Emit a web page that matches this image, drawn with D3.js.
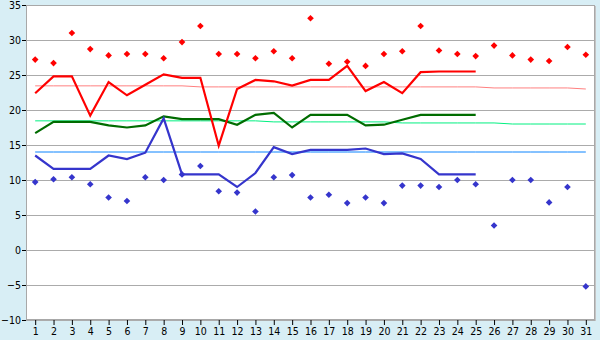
<!DOCTYPE html>
<html>
<head>
<meta charset="utf-8">
<script src="https://cdn.jsdelivr.net/npm/d3@7"></script>
<style>
  html, body { margin: 0; padding: 0; background: #d8eef5; }
  svg { display: block; }
  text { font-family: "DejaVu Sans Condensed", "DejaVu Sans", sans-serif; font-stretch: condensed; font-size: 10.5px; fill: #000; }
</style>
</head>
<body>
<div id="chart"></div>
<script>
// days of the month
var days = d3.range(1, 32);
var yTicks = [-10, -5, 0, 5, 10, 15, 20, 25, 30, 35];

// daily extremes (diamonds), days 1..31
var maxDaily = [27.2, 26.7, 31.0, 28.7, 27.8, 28.0, 28.0, 27.4, 29.7, 32.0,
  28.0, 28.0, 27.4, 28.4, 27.4, 33.1, 26.6, 26.9, 26.3, 28.0,
  28.4, 32.0, 28.5, 28.0, 27.7, 29.2, 27.8, 27.2, 27.0, 29.0, 27.9];
var minDaily = [9.7, 10.1, 10.4, 9.4, 7.5, 7.0, 10.4, 10.0, 10.8, 12.0,
  8.4, 8.2, 5.5, 10.4, 10.7, 7.5, 7.9, 6.7, 7.5, 6.7,
  9.2, 9.2, 9.0, 10.0, 9.4, 3.5, 10.0, 10.0, 6.8, 9.0, -5.2];

// running lines, days 1..25
var maxLine = [22.4, 24.8, 24.8, 19.2, 24.0, 22.1, 23.6, 25.1, 24.6, 24.6,
  14.9, 23.0, 24.3, 24.1, 23.5, 24.3, 24.3, 26.3, 22.7, 24.0,
  22.4, 25.4, 25.5, 25.5, 25.5];
var meanLine = [16.7, 18.3, 18.3, 18.3, 17.8, 17.5, 17.8, 19.1, 18.7, 18.7,
  18.7, 17.9, 19.3, 19.6, 17.5, 19.3, 19.3, 19.3, 17.8, 17.9,
  18.6, 19.3, 19.3, 19.3, 19.3];
var minLine = [13.5, 11.6, 11.6, 11.6, 13.5, 13.0, 13.9, 18.8, 10.8, 10.8,
  10.8, 9.0, 11.0, 14.7, 13.7, 14.3, 14.3, 14.3, 14.5, 13.7,
  13.8, 13.0, 10.8, 10.8, 10.8];

// normals, days 1..31
var normalMax = [23.45, 23.45, 23.45, 23.45, 23.45, 23.45, 23.45, 23.45, 23.45, 23.3,
  23.3, 23.3, 23.3, 23.3, 23.3, 23.3, 23.3, 23.3, 23.3, 23.3,
  23.3, 23.3, 23.3, 23.3, 23.3, 23.15, 23.15, 23.15, 23.15, 23.15, 23.0];
var normalMean = [18.45, 18.45, 18.45, 18.45, 18.45, 18.45, 18.45, 18.45, 18.45, 18.45,
  18.45, 18.45, 18.45, 18.3, 18.3, 18.3, 18.3, 18.3, 18.3, 18.3,
  18.15, 18.15, 18.15, 18.15, 18.15, 18.15, 18.0, 18.0, 18.0, 18.0, 18.0];
var normalMin = [14.0, 14.0, 14.0, 14.0, 14.0, 14.0, 14.0, 14.0, 14.0, 14.0,
  14.0, 14.0, 14.0, 14.0, 14.0, 14.0, 14.0, 14.0, 14.0, 14.0,
  14.0, 14.0, 14.0, 14.0, 14.0, 14.0, 14.0, 14.0, 14.0, 14.0, 14.0];

var frame = {width: 600, height: 340},
  margin = {top: 5, right: 5, bottom: 20, left: 26};

var x = d3.scalePoint()
  .domain(days)
  .range([margin.left, frame.width - margin.right])
  .padding(0.5);

var y = d3.scaleLinear()
  .domain([-10, 35])
  .range([frame.height - margin.bottom, margin.top]);

var svg = d3.select('#chart')
  .append('svg')
  .attr('width', frame.width)
  .attr('height', frame.height);

// plot background
svg.append('rect')
  .attr('x', margin.left)
  .attr('y', margin.top)
  .attr('width', frame.width - margin.left - margin.right)
  .attr('height', frame.height - margin.top - margin.bottom)
  .attr('fill', '#fff');

// grid
svg.append('g')
  .selectAll('line')
  .data(yTicks)
  .enter()
  .append('line')
  .attr('x1', margin.left)
  .attr('x2', frame.width - margin.right)
  .attr('y1', function (d) { return Math.round(y(d)) + 0.5; })
  .attr('y2', function (d) { return Math.round(y(d)) + 0.5; })
  .attr('stroke', '#ababab');

// frame
svg.append('rect')
  .attr('x', margin.left + 0.5)
  .attr('y', margin.top + 0.5)
  .attr('width', frame.width - margin.left - margin.right - 1)
  .attr('height', frame.height - margin.top - margin.bottom - 1)
  .attr('fill', 'none')
  .attr('stroke', '#a8a8a8');
svg.append('line')
  .attr('x1', frame.width - margin.right + 0.5)
  .attr('x2', frame.width - margin.right + 0.5)
  .attr('y1', margin.top + 1)
  .attr('y2', frame.height - margin.bottom + 1)
  .attr('stroke', '#c4c4c4');

// y axis: labels + short black ticks
var yAxis = d3.axisLeft(y).tickValues(yTicks).tickSize(4).tickPadding(1);
var gy = svg.append('g')
  .attr('transform', 'translate(' + margin.left + ',0)')
  .call(yAxis);
gy.select('.domain').remove();
gy.selectAll('.tick line').attr('stroke', '#000');
gy.selectAll('.tick text')
  .attr('font-family', null)
  .attr('font-size', null);
gy.attr('font-family', null).attr('font-size', null);

// x axis
var xAxis = d3.axisBottom(x).tickSize(5).tickPadding(3);
var gx = svg.append('g')
  .attr('transform', 'translate(0,' + (frame.height - margin.bottom) + ')')
  .call(xAxis);
gx.select('.domain').remove();
gx.selectAll('.tick line').attr('stroke', '#000');
gx.attr('font-family', null).attr('font-size', null);

function addLine(values, color, width) {
  var line = d3.line()
    .x(function (d, i) { return x(days[i]); })
    .y(function (d) { return y(d); });
  svg.append('path')
    .datum(values)
    .attr('d', line)
    .attr('fill', 'none')
    .attr('stroke', color)
    .attr('stroke-width', width)
    .attr('stroke-linejoin', 'miter');
}

// normals
addLine(normalMax, '#ff8080', 1);
addLine(normalMean, '#00f080', 1);
addLine(normalMin, '#0a84ff', 1);

// running lines
addLine(meanLine, '#006c00', 2.2);
addLine(maxLine, '#ff0000', 2.2);
addLine(minLine, '#3535cc', 2.2);

function addDots(values, color) {
  var sym = d3.symbol().type(d3.symbolSquare).size(22);
  svg.append('g')
    .selectAll('path')
    .data(values)
    .enter()
    .append('path')
    .attr('d', sym)
    .attr('transform', function (d, i) {
      return 'translate(' + x(days[i]) + ',' + y(d) + ') rotate(45)';
    })
    .attr('fill', color);
}

addDots(maxDaily, '#ff0000');
addDots(minDaily, '#3535cc');
</script>
</body>
</html>
